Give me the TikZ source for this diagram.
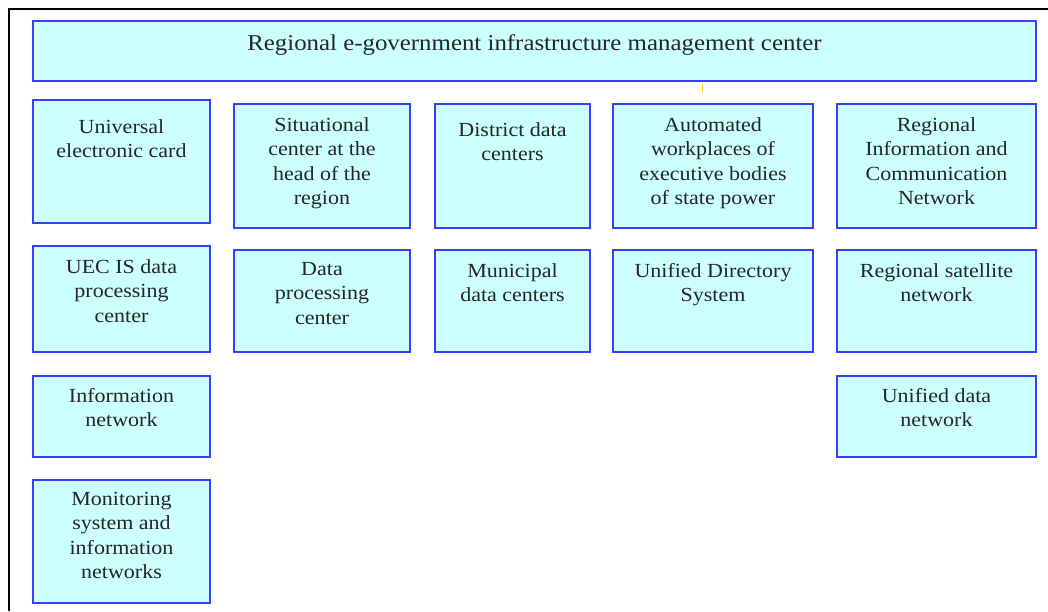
\documentclass[tikz,border=0pt]{standalone}
\usepackage{fontspec}
\setmainfont{Liberation Serif}[FakeStretch=1.1]
\definecolor{boxfill}{HTML}{CCFFFF}
\definecolor{boxline}{HTML}{3C3CFF}
\definecolor{txtcol}{HTML}{262626}
\tikzset{
  box/.style={draw=boxline, fill=boxfill, line width=2pt, rectangle, inner sep=0pt},
  txt/.style={text=txtcol, align=center, inner sep=0pt, font=\fontsize{20}{24.5}\selectfont},
}
\newcommand\mkbox[7]{%
  \node[box, minimum width={#4-#2}, minimum height={#5-#3}] (#1) at ({(#2+#4)/2},{(#3+#5)/2}) {};
  \node[txt, anchor=north] (#1t) at ({(#2+#4)/2},#6) {#7};}
\begin{document}
\begin{tikzpicture}[x=1pt,y=-1pt]
\useasboundingbox (0,0) rectangle (1048,611);
\fill[white] (0,0) rectangle (1048,611);
\draw[line width=2pt] (9,611) -- (9,9) -- (1048,9);
\mkbox{top}{33}{21}{1036}{81}{34}{\fontsize{22.6}{27}\selectfont Regional e-government infrastructure management center}
\draw[yellow!80!orange, line width=0.8pt] (702,84) -- (702,92);
% row 1
\mkbox{a1}{33}{100}{210}{223}{119}{Universal\\electronic card}
\mkbox{b1}{234}{104}{410}{228}{117}{Situational\\center at the\\head of the\\region}
\mkbox{c1}{435}{104}{590}{228}{122}{District data\\centers}
\mkbox{d1}{613}{104}{813}{228}{117}{Automated\\workplaces of\\executive bodies\\of state power}
\mkbox{e1}{837}{104}{1036}{228}{117}{Regional\\Information and\\Communication\\Network}
% row 2
\mkbox{a2}{33}{246}{210}{352}{259}{UEC IS data\\processing\\center}
\mkbox{b2}{234}{250}{410}{352}{262}{Data\\processing\\center}
\mkbox{c2}{435}{250}{590}{352}{263}{Municipal\\data centers}
\mkbox{d2}{613}{250}{813}{352}{263}{Unified Directory\\System}
\mkbox{e2}{837}{250}{1036}{352}{263}{Regional satellite\\network}
% row 3
\mkbox{a3}{33}{376}{210}{457}{388}{Information\\network}
\mkbox{e3}{837}{376}{1036}{457}{388}{Unified data\\network}
% row 4
\mkbox{a4}{33}{480}{210}{603}{492}{Monitoring\\system and\\information\\networks}
\end{tikzpicture}
\end{document}
